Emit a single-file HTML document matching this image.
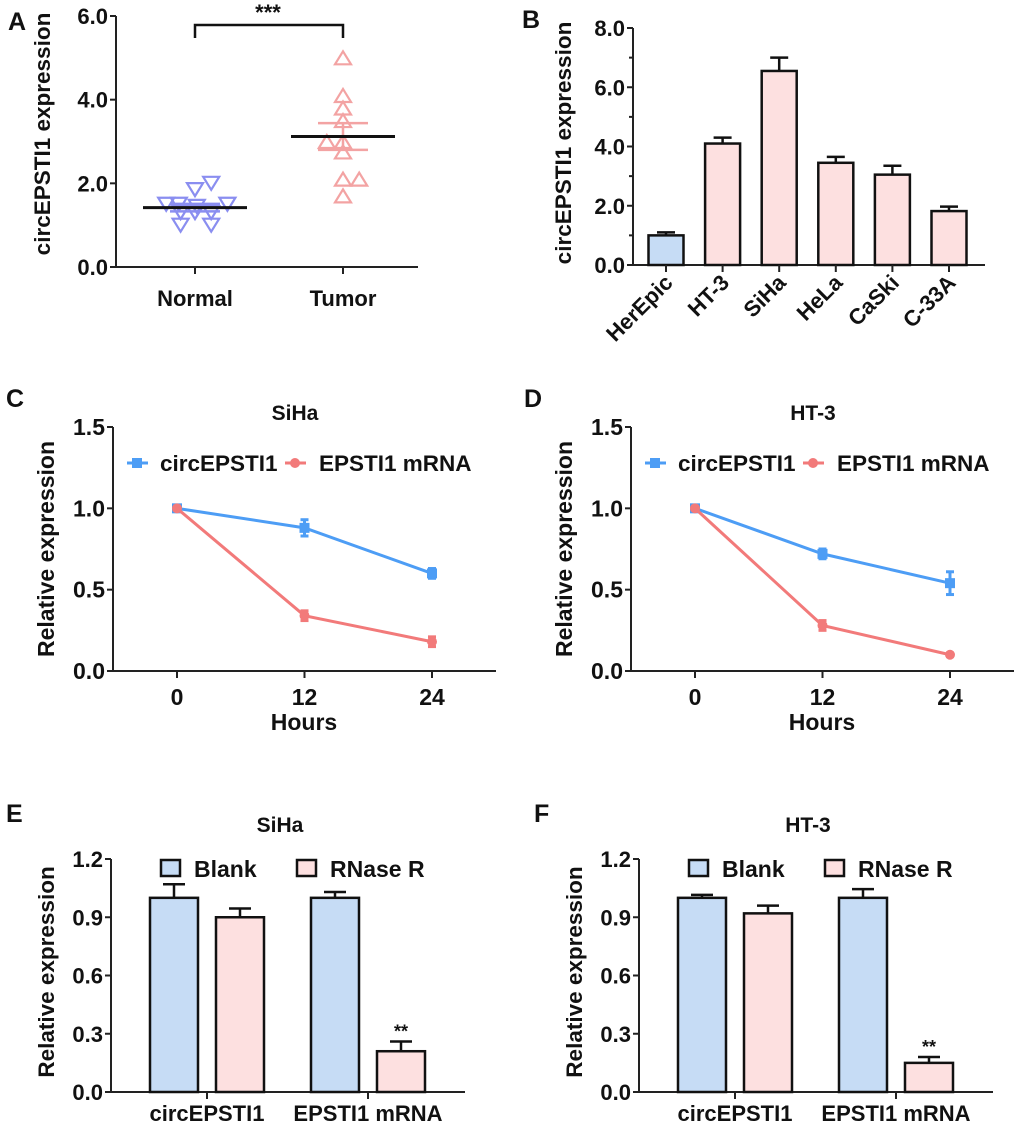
<!DOCTYPE html>
<html><head><meta charset="utf-8"><style>
body{margin:0;background:#fff}
svg{display:block}
text{font-family:"Liberation Sans",Arial,sans-serif;font-weight:bold;fill:#111}
</style></head><body>
<svg id="s" width="1020" height="1128" viewBox="0 0 1020 1128" xmlns="http://www.w3.org/2000/svg"></svg>
<script>
// Panel A data
const aNormal = [1.5,1.5,1.3,1.85,2.0,1.3,1.3,1.0,1.0,1.5,1.45];
const aNormalJit = [-0.8,-0.45,-0.4,0,0.45,0,0.45,-0.4,0.45,0.9,0.05];
const aTumor = [5.0,4.1,3.8,3.5,3.0,3.0,2.75,2.1,2.1,1.7];
const aTumorJit = [0,0,0,0,-0.45,0,0,0,0.45,0];
const aMeans = [1.42,3.12];
const aSem = [0.09,0.32];
const aTicks = [0,2,4,6];
// Panel B data
const bCats = ["HerEpic","HT-3","SiHa","HeLa","CaSki","C-33A"];
const bVals = [1.0,4.1,6.55,3.45,3.05,1.82];
const bErr = [0.1,0.2,0.45,0.2,0.3,0.15];
const bTicks = [0,2,4,6,8];
// Panel C/D data
const hours = [0,12,24];
const cCirc = [1.0,0.88,0.60]; const cCircErr=[0.01,0.05,0.03];
const cMrna = [1.0,0.34,0.18]; const cMrnaErr=[0.01,0.03,0.03];
const dCirc = [1.0,0.72,0.54]; const dCircErr=[0.01,0.03,0.07];
const dMrna = [1.0,0.28,0.10]; const dMrnaErr=[0.01,0.03,0.01];
const lineTicks = [0,0.5,1.0,1.5];
// Panel E/F data
const efCats = ["circEPSTI1","EPSTI1 mRNA"];
const eBlank = [1.0,1.0]; const eBlankErr=[0.07,0.03];
const eRnase = [0.9,0.21]; const eRnaseErr=[0.045,0.05];
const fBlank = [1.0,1.0]; const fBlankErr=[0.015,0.045];
const fRnase = [0.92,0.15]; const fRnaseErr=[0.04,0.03];
const efTicks = [0,0.3,0.6,0.9,1.2];

const S=document.getElementById('s');const NS='http://www.w3.org/2000/svg';
function el(t,a,p){const e=document.createElementNS(NS,t);for(const k in a)e.setAttribute(k,a[k]);(p||S).appendChild(e);return e;}
function txt(x,y,s,size,anchor,name,extra){const e=el('text',Object.assign({x:x,y:y,'font-size':size,'text-anchor':anchor||'middle'},extra||{}));e.textContent=s;


return e;}
function line(x1,y1,x2,y2,c,w,name){const e=el('line',{x1:x1,y1:y1,x2:x2,y2:y2,stroke:c,'stroke-width':w});


return e;}
function yAxis(x,yT,yB,xEnd,ticks,min,max,fmt,size,name){
  const sc=v=>yB-(v-min)/(max-min)*(yB-yT);
  line(x,yT,x,yB+1,'#222',2,name+'-y-axis');
  line(x-1,yB,xEnd,yB,'#222',2,name+'-x-axis');
  ticks.forEach(t=>{line(x-6,sc(t),x,sc(t),'#222',2,name+'-y-tick');txt(x-8,sc(t)+8,fmt(t),size,'end',name+'-y-tick-label');});
  return sc;}
function errBar(x,y1,y2,hw,c,w,name){line(x,y1,x,y2,c,w,name);line(x-hw,y2,x+hw,y2,c,w,name+'-cap');}
function label(x,y,s){txt(x,y,s,25,'start','panel-label-'+s);}

// ---- Panel A
label(8,30,'A');
const ya=yAxis(116,16,267,418,aTicks,0,6,t=>t.toFixed(1),22,'panel-a');
const xa=[195,343];
xa.forEach(x=>line(x,267,x,274,'#222',2,'panel-a-x-tick'));
txt(195,306,'Normal',22,'middle','panel-a-category-normal');
txt(343,306,'Tumor',22,'middle','panel-a-category-tumor');
txt(50,134,'circEPSTI1 expression',22.5,'middle','panel-a-y-title',{transform:'rotate(-90 50 134)'});
const br=el('path',{d:'M195,38 V25 H343 V38',fill:'none',stroke:'#111','stroke-width':2.5});


txt(268,20,'***',22,'middle','significance-stars');
function tri(x,y,down,c,name){const h=6.5;const w=8;const d=down?`M${x-w},${y-h} L${x+w},${y-h} L${x},${y+h} Z`:`M${x-w},${y+h} L${x+w},${y+h} L${x},${y-h} Z`;
const e=el('path',{d:d,fill:'none',stroke:c,'stroke-width':2.2});

}
aNormal.forEach((v,i)=>tri(195+aNormalJit[i]*36,ya(v),true,'#8a8ef0','normal-point'));
aTumor.forEach((v,i)=>tri(343+aTumorJit[i]*36,ya(v),false,'#f3a3a3','tumor-point'));
const semCol=['#8a8ef0','#f3a3a3'];
[0,1].forEach(i=>{const x=xa[i];
 line(x,ya(aMeans[i]-aSem[i]),x,ya(aMeans[i]+aSem[i]),semCol[i],2.5,'sem-bar');
 line(x-25,ya(aMeans[i]-aSem[i]),x+25,ya(aMeans[i]-aSem[i]),semCol[i],2.5,'sem-cap-low');
 line(x-25,ya(aMeans[i]+aSem[i]),x+25,ya(aMeans[i]+aSem[i]),semCol[i],2.5,'sem-cap-high');
 line(x-52,ya(aMeans[i]),x+52,ya(aMeans[i]),'#111',3,'mean-line');});

// ---- Panel B
label(522,28,'B');
const yb=yAxis(633,28,265,985,bTicks,0,8,t=>t.toFixed(1),22,'panel-b');
[1,3,5,7].forEach(t=>line(629,yb(t),633,yb(t),'#222',2,'panel-b-minor-tick'));
txt(571,143,'circEPSTI1 expression',22.5,'middle','panel-b-y-title',{transform:'rotate(-90 571 143)'});
bCats.forEach((c,i)=>{const x=666+i*56.6;
 errBar(x,yb(bVals[i]),yb(bVals[i]+bErr[i]),9,'#111',2.5,'bar-error-'+c);
 const r=el('rect',{x:x-17.5,y:yb(bVals[i]),width:35,height:265-yb(bVals[i]),fill:i==0?'#c6dcf5':'#fde0e0',stroke:'#111','stroke-width':2.5});
 
 
 line(x,265,x,272,'#222',2,'panel-b-x-tick');
 txt(x+8,284,c,22,'end','panel-b-category-'+c.toLowerCase(),{transform:`rotate(-45 ${x+8} 284)`});});

// ---- Panels C & D
function linePanel(ox,letter,title,circ,circE,mrna,mrnaE){
 label(ox+6,407,letter);
 const nm='panel-'+letter.toLowerCase();
 const y=yAxis(ox+113,427,671,ox+496,lineTicks,0,1.5,t=>t.toFixed(1),23,nm);
 const xs=h=>ox+177+h/24*255;
 hours.forEach(h=>{line(xs(h),671,xs(h),678,'#222',2,nm+'-x-tick');txt(xs(h),705,String(h),23,'middle',nm+'-x-tick-label');});
 txt(ox+177+127,730,'Hours',23,'middle',nm+'-x-title');
 txt(ox+295,420,title,21,'middle',nm+'-title');
 txt(ox+54,549,'Relative expression',23,'middle',nm+'-y-title',{transform:`rotate(-90 ${ox+54} 549)`});
 const series=[[circ,circE,'#4d9df5','sq','circ-line'],[mrna,mrnaE,'#f27a7a','ci','mrna-line']];
 series.forEach(([v,e,c,m,n])=>{
  const pl=el('polyline',{points:hours.map((h,i)=>xs(h)+','+y(v[i])).join(' '),fill:'none',stroke:c,'stroke-width':3});
  
  
  hours.forEach((h,i)=>{
   line(xs(h),y(v[i]-e[i]),xs(h),y(v[i]+e[i]),c,3,nm+'-'+n+'-error');
   line(xs(h)-4,y(v[i]-e[i]),xs(h)+4,y(v[i]-e[i]),c,3,nm+'-'+n+'-cap');
   line(xs(h)-4,y(v[i]+e[i]),xs(h)+4,y(v[i]+e[i]),c,3,nm+'-'+n+'-cap');
   const mk=m=='sq'?el('rect',{x:xs(h)-5,y:y(v[i])-5,width:10,height:10,fill:c}):el('circle',{cx:xs(h),cy:y(v[i]),r:5,fill:c});
   
   });});
 line(ox+127,463,ox+148,463,'#4d9df5',3,nm+'-legend-circ-line');
 const lm=el('rect',{x:ox+132,y:458,width:10,height:10,fill:'#4d9df5'});
 
 
 txt(ox+160,471,'circEPSTI1',22.5,'start',nm+'-legend-circ-label');
 line(ox+285,463,ox+306,463,'#f27a7a',3,nm+'-legend-mrna-line');
 const lc=el('circle',{cx:ox+295,cy:463,r:5,fill:'#f27a7a'});
 
 
 txt(ox+319,471,'EPSTI1 mRNA',22.5,'start',nm+'-legend-mrna-label');
}
linePanel(0,'C','SiHa',cCirc,cCircErr,cMrna,cMrnaErr);
linePanel(518,'D','HT-3',dCirc,dCircErr,dMrna,dMrnaErr);

// ---- Panels E & F
function barPanel(ox,letter,title,blank,blankE,rn,rnE){
 label(ox+6,822,letter);
 const nm='panel-'+letter.toLowerCase();
 const y=yAxis(ox+111,859,1092,ox+465,efTicks,0,1.2,t=>t.toFixed(1),22,nm);
 txt(ox+280,832,title,21,'middle',nm+'-title');
 txt(ox+54,972,'Relative expression',22.5,'middle',nm+'-y-title',{transform:`rotate(-90 ${ox+54} 972)`});
 const gx=[ox+207,ox+368];
 efCats.forEach((c,i)=>{
  line(gx[i],1092,gx[i],1099,'#222',2,nm+'-x-tick');
  txt(gx[i],1121,c,22,'middle',nm+'-category-'+i);
  [[blank,blankE,-33,'#c6dcf5','blank'],[rn,rnE,33,'#fde0e0','rnase']].forEach(([v,e,dx,f,n])=>{
   const x=gx[i]+dx;
   errBar(x,y(v[i]),y(v[i]+e[i]),11,'#111',2.5,nm+'-'+n+'-error');
   const r=el('rect',{x:x-24,y:y(v[i]),width:48,height:1092-y(v[i]),fill:f,stroke:'#111','stroke-width':2.5});
   
   });});
 txt(gx[1]+33,y(rn[1]+rnE[1])-4,'**',18,'middle',nm+'-significance',{'font-weight':'normal'});
 const b1=el('rect',{x:ox+161,y:860,width:19,height:16,fill:'#c6dcf5',stroke:'#111','stroke-width':2.5});
 
 
 txt(ox+194,877,'Blank',23,'start',nm+'-legend-blank-label');
 const b2=el('rect',{x:ox+297,y:860,width:19,height:16,fill:'#fde0e0',stroke:'#111','stroke-width':2.5});
 
 
 txt(ox+330,877,'RNase R',23,'start',nm+'-legend-rnase-label');
}
barPanel(0,'E','SiHa',eBlank,eBlankErr,eRnase,eRnaseErr);
barPanel(528,'F','HT-3',fBlank,fBlankErr,fRnase,fRnaseErr);
</script>
</body></html>
